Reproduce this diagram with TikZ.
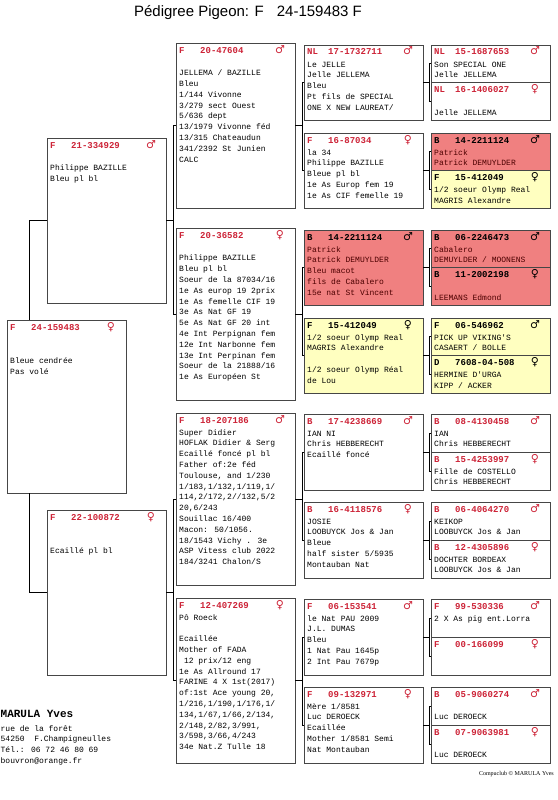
\documentclass[tikz,border=0pt]{standalone}
\usepackage{fontspec}
\setmainfont{Liberation Sans}
\newfontfamily\pedmono{Liberation Mono}
\newfontfamily\pedsym{DejaVu Sans}
\newfontfamily\pedserif{Liberation Serif}

\definecolor{pedred}{RGB}{205,35,55}
\definecolor{pedrose}{RGB}{240,128,128}
\definecolor{pedyellow}{RGB}{255,255,192}
\definecolor{pedline}{RGB}{70,70,70}

\newcommand{\mal}{{\pedsym\bfseries\char"2642}}
\newcommand{\fem}{{\pedsym\bfseries\char"2640}}

% one pigeon card: name, top left, height, colour scheme, country, ring, sex, lines
\newcommand{\pigeon}[8]{%
 \node[pbox, box #4, minimum height=#3] (#1) at (#2) {};
 \node[phead, head #4] (#1c) at ([shift={(3,10)}]#1.north west) {#5};
 \node[phead, head #4] (#1r) at ([shift={(24,10)}]#1.north west) {#6};
 \node[psex, head #4] (#1s) at ([shift={(-15,10)}]#1.north east) {#7};
 \node[pbody, body #4] (#1t) at ([shift={(3,22)}]#1.north west)
   {\parbox[t]{114pt}{\raggedright #8}};
}

\begin{document}
\begin{tikzpicture}[x=1pt, y=-1pt,
  pbox/.style={draw=pedline, line width=0.8pt, anchor=north west,
    minimum width=119, inner sep=0, outer sep=0},
  phead/.style={anchor=base west, inner sep=0,
    font=\pedmono\bfseries\fontsize{9}{9}\selectfont},
  psex/.style={anchor=base, inner sep=0, font=\fontsize{11}{11}\selectfont},
  pbody/.style={anchor=base west, inner sep=0,
    font=\pedmono\fontsize{8}{10.8}\selectfont},
  box w/.style={fill=white}, head w/.style={text=pedred}, body w/.style={text=black},
  box r/.style={fill=pedrose}, head r/.style={text=black}, body r/.style={text=black!70!red},
  box y/.style={fill=pedyellow}, head y/.style={text=black}, body y/.style={text=black},
  link/.style={draw=black, line width=0.6pt}]

\useasboundingbox (0,0) rectangle (557,800);

\node[anchor=base, font=\fontsize{15}{15}\selectfont] (title) at (248,17)
  {Pédigree Pigeon: F\hspace{13pt}24-159483 F};

% subject and parents
\pigeon{s}{7,320}{173}{w}{F}{24-159483}{\fem}{\mbox{}\\\mbox{}\\Bleue cendrée\\Pas volé}
\pigeon{c2a}{47,138}{165}{w}{F}{21-334929}{\mal}{\mbox{}\\Philippe BAZILLE\\Bleu pl bl}
\pigeon{c2b}{47,510}{165}{w}{F}{22-100872}{\fem}{\mbox{}\\\mbox{}\\Ecaillé pl bl}

% grandparents
\pigeon{c3a}{176,43}{165}{w}{F}{20-47604}{\mal}{\mbox{}\\JELLEMA / BAZILLE\\Bleu\\1/144 Vivonne\\3/279 sect Ouest\\5/636 dept\\13/1979 Vivonne féd\\13/315 Chateaudun\\341/2392 St Junien\\CALC}
\pigeon{c3b}{176,228}{172}{w}{F}{20-36582}{\fem}{\mbox{}\\Philippe BAZILLE\\Bleu pl bl\\Soeur de la 87034/16\\1e As europ 19 2prix\\1e As femelle CIF 19\\3e As Nat GF 19\\5e As Nat GF 20 int\\4e Int Perpignan fem\\12e Int Narbonne fem\\13e Int Perpinan fem\\Soeur de la 21888/16\\1e As Européen St}
\pigeon{c3c}{176,413}{172}{w}{F}{18-207186}{\mal}{Super Didier\\HOFLAK Didier \& Serg\\Ecaillé foncé pl bl\\Father of:2e féd\\Toulouse, and 1/230\\1/183,1/132,1/119,1/\\114,2/172,2//132,5/2\\20,6/243\\Souillac 16/400\\Macon: 50/1056.\\18/1543 Vichy . 3e\\ASP Vitess club 2022\\184/3241 Chalon/S}
\pigeon{c3d}{176,598}{165}{w}{F}{12-407269}{\fem}{Pô Roeck\\\mbox{}\\Ecaillée\\Mother of FADA\\\hphantom{0}12 prix/12 eng\\1e As Allround 17\\FARINE 4 X 1st(2017)\\of:1st Ace young 20,\\1/216,1/190,1/176,1/\\134,1/67,1/66,2/134,\\2/148,2/82,3/991,\\3/598,3/66,4/243\\34e Nat.Z Tulle 18}

% great-grandparents
\pigeon{c4a}{304,45}{75}{w}{NL}{17-1732711}{\mal}{Le JELLE\\Jelle JELLEMA\\Bleu\\Pt fils de SPECIAL\\ONE X NEW LAUREAT/}
\pigeon{c4b}{304,133}{75}{w}{F}{16-87034}{\fem}{la 34\\Philippe BAZILLE\\Bleue pl bl\\1e As Europ fem 19\\1e As CIF femelle 19}
\pigeon{c4c}{304,230}{75}{r}{B}{14-2211124}{\mal}{Patrick\\Patrick DEMUYLDER\\Bleu macot\\fils de Cabalero\\15e nat St Vincent}
\pigeon{c4d}{304,318}{75}{y}{F}{15-412049}{\fem}{1/2 soeur Olymp Real\\MAGRIS Alexandre\\\mbox{}\\1/2 soeur Olymp Réal\\de Lou}
\pigeon{c4e}{304,414}{76}{w}{B}{17-4238669}{\mal}{IAN NI\\Chris HEBBERECHT\\Ecaillé foncé}
\pigeon{c4f}{304,502}{76}{w}{B}{16-4118576}{\fem}{JOSIE\\LOOBUYCK Jos \& Jan\\Bleue\\half sister 5/5935\\Montauban Nat}
\pigeon{c4g}{304,599}{76}{w}{F}{06-153541}{\mal}{le Nat PAU 2009\\J.L. DUMAS\\Bleu\\1 Nat Pau 1645p\\2 Int Pau 7679p}
\pigeon{c4h}{304,687}{76}{w}{F}{09-132971}{\fem}{Mère 1/8581\\Luc DEROECK\\Ecaillée\\Mother 1/8581 Semi\\Nat Montauban}

% great-great-grandparents
\pigeon{c5a}{431,45}{37.5}{w}{NL}{15-1687653}{\mal}{Son SPECIAL ONE\\Jelle JELLEMA}
\pigeon{c5b}{431,82.5}{37.5}{w}{NL}{16-1406027}{\fem}{\mbox{}\\Jelle JELLEMA}
\pigeon{c5c}{431,133}{37.5}{r}{B}{14-2211124}{\mal}{Patrick\\Patrick DEMUYLDER}
\pigeon{c5d}{431,170.5}{37.5}{y}{F}{15-412049}{\fem}{1/2 soeur Olymp Real\\MAGRIS Alexandre}
\pigeon{c5e}{431,230}{37.5}{r}{B}{06-2246473}{\mal}{Cabalero\\DEMUYLDER / MOONENS}
\pigeon{c5f}{431,267.5}{37.5}{r}{B}{11-2002198}{\fem}{\mbox{}\\LEEMANS Edmond}
\pigeon{c5g}{431,318}{37.5}{y}{F}{06-546962}{\mal}{PICK UP VIKING'S\\CASAERT / BOLLE}
\pigeon{c5h}{431,355.5}{37.5}{y}{D}{7608-04-508}{\fem}{HERMINE D'URGA\\KIPP / ACKER}
\pigeon{c5i}{431,414}{38}{w}{B}{08-4130458}{\mal}{IAN\\Chris HEBBERECHT}
\pigeon{c5j}{431,452}{38}{w}{B}{15-4253997}{\fem}{Fille de COSTELLO\\Chris HEBBERECHT}
\pigeon{c5k}{431,502}{38}{w}{B}{06-4064270}{\mal}{KEIKOP\\LOOBUYCK Jos \& Jan}
\pigeon{c5l}{431,540}{38}{w}{B}{12-4305896}{\fem}{DOCHTER BORDEAX\\LOOBUYCK Jos \& Jan}
\pigeon{c5m}{431,599}{38}{w}{F}{99-530336}{\mal}{2 X As pig ent.Lorra}
\pigeon{c5n}{431,637}{38}{w}{F}{00-166099}{\fem}{}
\pigeon{c5o}{431,687}{38}{w}{B}{05-9060274}{\mal}{\mbox{}\\Luc DEROECK}
\pigeon{c5p}{431,725}{38}{w}{B}{07-9063981}{\fem}{\mbox{}\\Luc DEROECK}

% connectors
\draw[link] (c2a.west) -| ([xshift=22]s.north west);
\draw[link] (c2b.west) -| ([xshift=22]s.south west);
\draw[link] (c3a.west) -- ++(-3,0) |- (c2a.east);
\draw[link] (c3b.west) -- ++(-3,0) |- (c2a.east);
\draw[link] (c3c.west) -- ++(-3,0) |- (c2b.east);
\draw[link] (c3d.west) -- ++(-3,0) |- (c2b.east);
\draw[link] (c4a.west) -- ++(-2,0) |- (c3a.east);
\draw[link] (c4b.west) -- ++(-2,0) |- (c3a.east);
\draw[link] (c4c.west) -- ++(-2,0) |- (c3b.east);
\draw[link] (c4d.west) -- ++(-2,0) |- (c3b.east);
\draw[link] (c4e.west) -- ++(-2,0) |- (c3c.east);
\draw[link] (c4f.west) -- ++(-2,0) |- (c3c.east);
\draw[link] (c4g.west) -- ++(-2,0) |- (c3d.east);
\draw[link] (c4h.west) -- ++(-2,0) |- (c3d.east);
\draw[link] (c5a.west) -- ++(-2,0) |- (c4a.east);
\draw[link] (c5b.west) -- ++(-2,0) |- (c4a.east);
\draw[link] (c5c.west) -- ++(-2,0) |- (c4b.east);
\draw[link] (c5d.west) -- ++(-2,0) |- (c4b.east);
\draw[link] (c5e.west) -- ++(-2,0) |- (c4c.east);
\draw[link] (c5f.west) -- ++(-2,0) |- (c4c.east);
\draw[link] (c5g.west) -- ++(-2,0) |- (c4d.east);
\draw[link] (c5h.west) -- ++(-2,0) |- (c4d.east);
\draw[link] (c5i.west) -- ++(-2,0) |- (c4e.east);
\draw[link] (c5j.west) -- ++(-2,0) |- (c4e.east);
\draw[link] (c5k.west) -- ++(-2,0) |- (c4f.east);
\draw[link] (c5l.west) -- ++(-2,0) |- (c4f.east);
\draw[link] (c5m.west) -- ++(-2,0) |- (c4g.east);
\draw[link] (c5n.west) -- ++(-2,0) |- (c4g.east);
\draw[link] (c5o.west) -- ++(-2,0) |- (c4h.east);
\draw[link] (c5p.west) -- ++(-2,0) |- (c4h.east);

% breeder
\node[anchor=base west, inner sep=0, font=\pedmono\bfseries\fontsize{11}{11}\selectfont]
  (owner) at (0.5,717) {MARULA Yves};
\node[anchor=base west, inner sep=0, font=\pedmono\fontsize{8}{10.8}\selectfont]
  (addr) at (0.5,731) {\parbox[t]{150pt}{\raggedright rue de la forêt\\54250\ \ F.Champigneulles\\Tél.: 06 72 46 80 69\\bouvron@orange.fr}};
\node[anchor=base east, inner sep=0, font=\pedserif\fontsize{6}{6}\selectfont]
  (credit) at (554,775) {Compuclub © MARULA Yves};
\end{tikzpicture}
\end{document}
